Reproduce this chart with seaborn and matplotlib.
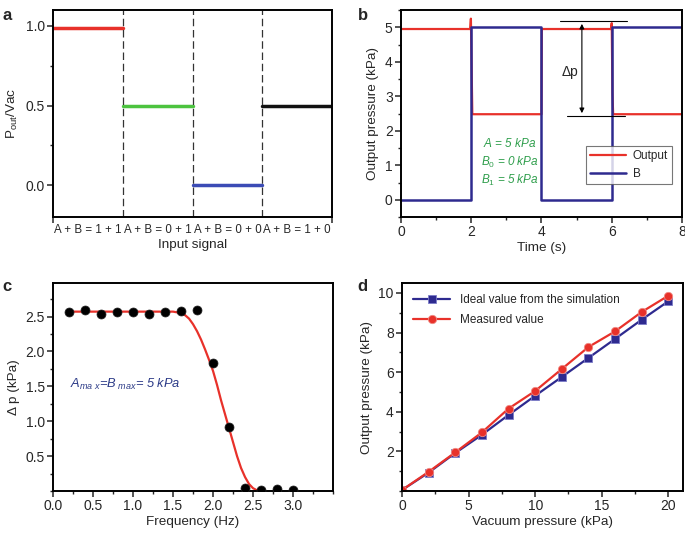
import numpy as np
import pandas as pd
import seaborn as sns
import matplotlib.pyplot as plt
from matplotlib.ticker import MultipleLocator

sns.set_style("ticks")
plt.rcParams['font.family'] = ['Liberation Sans', 'DejaVu Sans']
plt.rcParams['mathtext.fontset'] = 'custom'
plt.rcParams['mathtext.rm'] = 'Liberation Sans'
plt.rcParams['mathtext.it'] = 'Liberation Sans:italic'

RED = '#e8312a'
NAVY = '#2e2a8f'
GREEN = '#2f9e4c'

# panel a: normalised output per input combination
a_labels = ['A + B = 1 + 1', 'A + B = 0 + 1', 'A + B = 0 + 0', 'A + B = 1 + 0']
a_levels = [0.99, 0.50, 0.00, 0.50]
a_colors = ['#e8312a', '#4cc33f', '#3b4bb5', '#111111']

# panel b: output pressure and input B vs time
b_out_t = [0, 1.97, 1.99, 2.01, 2.03, 4.0, 4.01, 5.98, 6.0, 6.02, 6.04, 8]
b_out_p = [4.95, 4.95, 5.25, 3.9, 2.48, 2.48, 4.95, 4.95, 5.12, 3.1, 2.48, 2.48]
b_in_t = [0, 2, 2, 4, 4, 6, 6, 8]
b_in_p = [0, 0, 5, 5, 0, 0, 5, 5]

# panel c: delta p vs frequency
c_freq = [0.2, 0.4, 0.6, 0.8, 1.0, 1.2, 1.4, 1.6, 1.8, 2.0, 2.2, 2.4, 2.6, 2.8, 3.0]
c_dp = [2.57, 2.60, 2.53, 2.57, 2.56, 2.53, 2.56, 2.58, 2.59, 1.83, 0.92, 0.04, 0.02, 0.03, 0.01]
c_fit_f = [0.2, 1.5, 1.6, 1.65, 1.7, 1.75, 1.8, 1.85, 1.9, 1.95, 2.0, 2.05, 2.1, 2.15,
           2.2, 2.25, 2.3, 2.35, 2.4, 2.45, 2.5, 2.55, 2.58]
c_fit_dp = [2.57, 2.57, 2.55, 2.52, 2.47, 2.39, 2.29, 2.17, 2.03, 1.88, 1.72, 1.52, 1.3, 1.1,
            0.9, 0.7, 0.5, 0.33, 0.2, 0.1, 0.04, 0.01, 0.0]

# panel d: output pressure vs vacuum pressure
d_vac = [0, 2, 4, 6, 8, 10, 12, 14, 16, 18, 20]
d_ideal = [0.05, 0.93, 1.92, 2.84, 3.84, 4.81, 5.76, 6.72, 7.68, 8.65, 9.58]
d_meas = [0.05, 0.97, 1.95, 2.96, 4.16, 5.05, 6.16, 7.27, 8.06, 9.04, 9.86]

fig = plt.figure(figsize=(6.85, 5.34), dpi=100)
axa = fig.add_axes([0.0774, 0.5936, 0.4073, 0.3876])
axb = fig.add_axes([0.5854, 0.5936, 0.4102, 0.3876])
axc = fig.add_axes([0.0774, 0.0805, 0.4088, 0.3895])
axd = fig.add_axes([0.5869, 0.0805, 0.4102, 0.3895])

for ax in [axa, axb, axc, axd]:
    for s in ax.spines.values():
        s.set_linewidth(1.4)
        s.set_color('black')
        s.set_visible(True)
    ax.tick_params(which='major', direction='out', length=4, width=1.1, labelsize=10, pad=2)
    ax.tick_params(which='minor', direction='out', length=2.5, width=1.0)

# ---- a
for i, (lev, col) in enumerate(zip(a_levels, a_colors)):
    sns.lineplot(x=[i, i + 1], y=[lev, lev], color=col, lw=2.5, ax=axa)
for i in range(1, 4):
    axa.axvline(i, color='#333333', lw=0.9, ls=(0, (6, 3)))
axa.set_xlim(0, 4)
axa.set_ylim(-0.2, 1.1)
axa.set_yticks([0.0, 0.5, 1.0])
axa.yaxis.set_minor_locator(MultipleLocator(0.25))
axa.set_xticks([0, 4])
axa.set_xticklabels(['', ''])
axa.set_xticks([0.5, 1.5, 2.5, 3.5], minor=True)
axa.set_xticklabels(a_labels, minor=True, fontsize=8.3)
axa.tick_params(axis='x', which='minor', length=0, pad=5)
axa.set_xlabel('Input signal', fontsize=9.7, labelpad=2)
axa.set_ylabel(r'P$_{\mathrm{out}}$/Vac', fontsize=9.7, labelpad=4)

# ---- b
sns.lineplot(x=b_out_t, y=b_out_p, color=RED, lw=1.6, sort=False, estimator=None, ax=axb, label='Output')
sns.lineplot(x=b_in_t, y=b_in_p, color=NAVY, lw=1.8, sort=False, estimator=None, ax=axb, label='B')
axb.set_xlim(0, 8)
axb.set_ylim(-0.5, 5.5)
axb.xaxis.set_major_locator(MultipleLocator(2))
axb.xaxis.set_minor_locator(MultipleLocator(1))
axb.yaxis.set_major_locator(MultipleLocator(1))
axb.yaxis.set_minor_locator(MultipleLocator(0.5))
axb.set_xlabel('Time (s)', fontsize=9.7, labelpad=2)
axb.set_ylabel('Output pressure (kPa)', fontsize=9.7, labelpad=4)
axb.plot([4.53, 6.43], [5.18, 5.18], color='black', lw=0.8)
axb.plot([4.72, 6.38], [2.43, 2.43], color='black', lw=0.8)
axb.annotate('', xy=(5.15, 5.18), xytext=(5.15, 2.43),
             arrowprops=dict(arrowstyle='<|-|>', color='black', lw=0.8, mutation_scale=7))
axb.text(4.8, 3.69, 'Δp', fontsize=10, ha='center', va='center')
axb.text(3.1, 1.64, r'$A$ = 5 kPa', color=GREEN, fontsize=8.5, style='italic', ha='center', va='center')
axb.text(3.1, 1.09, r'$B_0$ = 0 kPa', color=GREEN, fontsize=8.5, style='italic', ha='center', va='center')
axb.text(3.1, 0.55, r'$B_1$ = 5 kPa', color=GREEN, fontsize=8.5, style='italic', ha='center', va='center')
leg = axb.legend(loc='lower right', bbox_to_anchor=(0.965, 0.159), fontsize=8.5, handlelength=3.0,
                 frameon=True, fancybox=False, borderpad=0.35, labelspacing=0.5,
                 handletextpad=0.6, borderaxespad=0)
leg.get_frame().set_edgecolor('#555555')
leg.get_frame().set_linewidth(0.8)

# ---- c
sns.lineplot(x=c_fit_f, y=c_fit_dp, color=RED, lw=1.6, sort=False, estimator=None, ax=axc)
sns.scatterplot(x=c_freq, y=c_dp, color='black', s=42, edgecolor='#222222', linewidth=0.5, ax=axc, zorder=3)
axc.set_xlim(0, 3.5)
axc.set_ylim(0, 2.98)
axc.set_xticks([0.0, 0.5, 1.0, 1.5, 2.0, 2.5, 3.0])
axc.xaxis.set_minor_locator(MultipleLocator(0.25))
axc.set_yticks([0.5, 1.0, 1.5, 2.0, 2.5])
axc.yaxis.set_minor_locator(MultipleLocator(0.25))
axc.set_xlabel('Frequency (Hz)', fontsize=9.7, labelpad=2)
axc.set_ylabel('Δ p (kPa)', fontsize=9.7, labelpad=4)
axc.text(0.21, 1.53, r'$A_{ma\ x}$=$B_{\ max}$= 5 kPa', color='#2b3a87', fontsize=9.3, style='italic',
         ha='left', va='center')

# ---- d
sns.lineplot(x=d_vac, y=d_ideal, color=NAVY, lw=1.6, marker='s', markersize=5.5,
             markeredgecolor='#7b7bc8', markeredgewidth=0.6, ax=axd, label='Ideal value from the simulation')
sns.lineplot(x=d_vac, y=d_meas, color=RED, lw=1.6, marker='o', markersize=6,
             markeredgecolor='#f08a84', markeredgewidth=0.6, ax=axd, label='Measured value')
axd.set_xlim(0, 21.1)
axd.set_ylim(0, 10.5)
axd.xaxis.set_major_locator(MultipleLocator(5))
axd.xaxis.set_minor_locator(MultipleLocator(2.5))
axd.set_yticks([2, 4, 6, 8, 10])
axd.yaxis.set_minor_locator(MultipleLocator(1))
axd.set_xlabel('Vacuum pressure (kPa)', fontsize=9.7, labelpad=2)
axd.set_ylabel('Output pressure (kPa)', fontsize=9.7, labelpad=4)
axd.legend(loc='upper left', bbox_to_anchor=(0.0, 1.0), fontsize=8.5, handlelength=3.2,
           frameon=False, labelspacing=0.7)

# panel letters
fig.text(0.003, 0.985, 'a', fontsize=12, fontweight='bold', va='top')
fig.text(0.522, 0.985, 'b', fontsize=12, fontweight='bold', va='top')
fig.text(0.003, 0.478, 'c', fontsize=12, fontweight='bold', va='top')
fig.text(0.522, 0.478, 'd', fontsize=12, fontweight='bold', va='top')

fig.savefig('out.png', dpi=100)
